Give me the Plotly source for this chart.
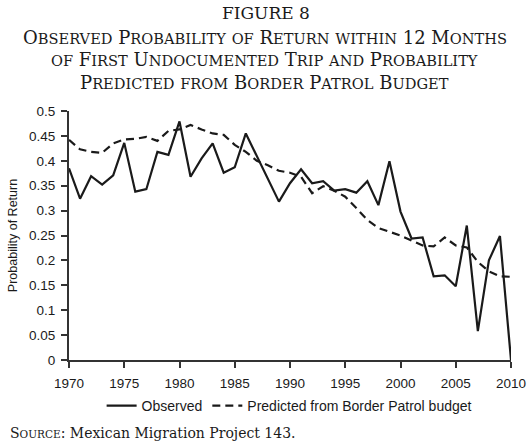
import plotly.graph_objects as go

# years and series
years = list(range(1970, 2011))
observed = [0.385, 0.324, 0.369, 0.352, 0.371, 0.436, 0.338, 0.343, 0.418, 0.412,
            0.479, 0.368, 0.405, 0.435, 0.376, 0.387, 0.455, 0.410, 0.364, 0.318,
            0.355, 0.383, 0.355, 0.359, 0.340, 0.343, 0.336, 0.359, 0.311, 0.399,
            0.298, 0.244, 0.246, 0.168, 0.170, 0.148, 0.270, 0.058, 0.200, 0.249,
            0.0]
predicted = [0.442, 0.423, 0.418, 0.416, 0.435, 0.443, 0.444, 0.448, 0.440, 0.460,
             0.463, 0.472, 0.463, 0.455, 0.452, 0.432, 0.418, 0.400, 0.391, 0.380,
             0.376, 0.368, 0.335, 0.349, 0.340, 0.328, 0.305, 0.281, 0.265, 0.258,
             0.250, 0.240, 0.230, 0.228, 0.246, 0.230, 0.226, 0.197, 0.178, 0.168,
             0.167]

x_ticks = [1970, 1975, 1980, 1985, 1990, 1995, 2000, 2005, 2010]
y_ticks = [0, 0.05, 0.1, 0.15, 0.2, 0.25, 0.3, 0.35, 0.4, 0.45, 0.5]
y_labels = ["0", "0.05", "0.1", "0.15", "0.2", "0.25", "0.3", "0.35", "0.4", "0.45", "0.5"]

title_lines = ["Observed Probability of Return within 12 Months",
               "of First Undocumented Trip and Probability",
               "Predicted from Border Patrol Budget"]

serif = "DejaVu Serif"
sans = "Liberation Sans"
ink = "#1a1a1a"


def small_caps(text, small):
    # capitals stay full size, lowercase becomes smaller capitals
    out = []
    run = ""
    for ch in text:
        if ch.islower():
            run += ch.upper()
        else:
            if run:
                out.append("<span style='font-size:%gpx'>%s</span>" % (small, run))
                run = ""
            out.append(ch)
    if run:
        out.append("<span style='font-size:%gpx'>%s</span>" % (small, run))
    return "".join(out)


fig = go.Figure()
fig.add_trace(go.Scatter(x=years, y=observed, mode="lines", name="Observed",
                         line=dict(color=ink, width=2.2)))
fig.add_trace(go.Scatter(x=years, y=predicted, mode="lines",
                         name="Predicted from Border Patrol budget",
                         line=dict(color=ink, width=2.2, dash="8px,5px")))

axis_common = dict(showgrid=False, zeroline=False, showline=True, linecolor="#333",
                   linewidth=2, ticks="outside", ticklen=6, tickwidth=2, tickcolor="#333",
                   automargin=False,
                   tickfont=dict(family=sans, size=13.5, color=ink))
fig.update_xaxes(range=[1970, 2010], tickvals=x_ticks, ticklabelstandoff=4, **axis_common)
fig.update_yaxes(range=[0, 0.5], tickvals=y_ticks, ticktext=y_labels, ticklabelstandoff=3,
                 title=dict(text="Probability of Return", standoff=9,
                            font=dict(family=sans, size=12.5, color=ink)),
                 **axis_common)

# title block, centred on the page rather than on the plot area
fig.add_annotation(text="FIGURE 8", xref="paper", yref="paper", x=0.446, y=1.392,
                   xanchor="center", yanchor="middle", showarrow=False,
                   font=dict(family=serif, size=17, color=ink))
for i, line in enumerate(title_lines):
    fig.add_annotation(text=small_caps(line, 14.6), xref="paper", yref="paper", x=0.443,
                       y=1.297 - i * 0.0905, xanchor="center", yanchor="middle",
                       showarrow=False,
                       font=dict(family=serif, size=18, color=ink))

fig.add_annotation(text=small_caps("Source", 10.5) + ": Mexican Migration Project 143.",
                   xref="paper", yref="paper", x=-0.138, y=-0.293, xanchor="left",
                   yanchor="middle", showarrow=False,
                   font=dict(family=serif, size=14, color=ink))

fig.update_layout(
    width=530, height=448,
    margin=dict(l=69, r=19, t=111, b=88),
    paper_bgcolor="white", plot_bgcolor="white",
    showlegend=True,
    legend=dict(orientation="h", x=0.498, y=-0.185, xanchor="center", yanchor="middle",
                font=dict(family=sans, size=14, color=ink), itemwidth=30,
                tracegroupgap=0),
)

# drop the browser's default page margin so the figure sits at the window corner
fig.write_html("out.html", config={"displayModeBar": False},
               post_script="document.body.style.margin = '0px';")
